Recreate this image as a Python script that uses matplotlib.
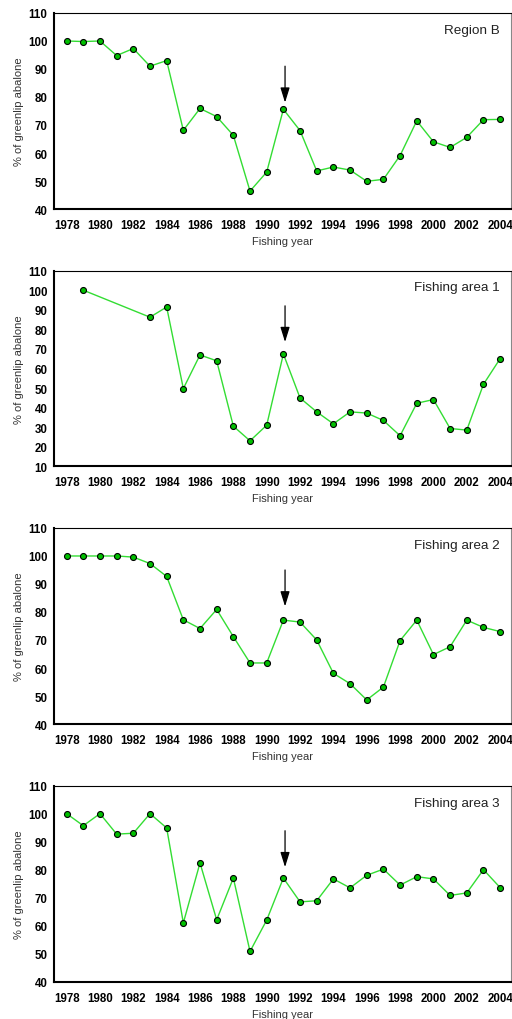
import matplotlib
matplotlib.use("Agg")
import matplotlib.pyplot as plt

plt.rcParams['font.family'] = ['Liberation Sans', 'DejaVu Sans']

years_b = list(range(1978, 2005))
region_b = [100, 99.8, 100, 94.8, 97.3, 91, 93, 68.1, 75.9, 73, 66.3, 46.4, 53.2,
            75.6, 68, 53.6, 55, 53.9, 49.9, 50.6, 59.1, 71.5, 64, 62, 65.6, 71.9, 72]

years_1 = [1979] + list(range(1983, 2005))
area_1 = [100, 86.2, 91.4, 49.7, 66.9, 63.9, 30.5, 23, 31, 67.4, 44.9, 37.8, 31.7,
          37.8, 37.2, 33.4, 25.6, 42.2, 44.1, 29.3, 28.5, 51.9, 65]

years_2 = list(range(1978, 2005))
area_2 = [100, 100, 100, 100, 99.6, 97.3, 92.7, 77.2, 74.1, 80.9, 71.2, 61.8, 61.8,
          77.1, 76.4, 70, 58.1, 54.4, 48.6, 53.2, 69.8, 77.1, 64.8, 67.6, 77.1, 74.5, 73]

years_3 = list(range(1978, 2005))
area_3 = [100.1, 95.8, 100.1, 92.8, 93.1, 100.1, 95, 61.1, 82.5, 62.2, 77.1, 50.9, 62.1,
          77.1, 68.6, 69, 76.8, 73.6, 78.1, 80.3, 74.6, 77.6, 76.8, 70.9, 71.8, 80.1, 73.7]

titles = ["Region B", "Fishing area 1", "Fishing area 2", "Fishing area 3"]
ylims = [(40, 110), (10, 110), (40, 110), (40, 110)]
arrow_from = [91, 92, 95, 94]
arrow_to = [78, 73.5, 82, 81]
xticks = list(range(1978, 2005, 2))

series = [(years_b, region_b), (years_1, area_1), (years_2, area_2), (years_3, area_3)]

fig = plt.figure(figsize=(5.12, 10.2), dpi=100)
bottoms = [0.7941, 0.5419, 0.2892, 0.0363]
heights = [0.1922, 0.1918, 0.1922, 0.1922]

for i, (xs, ys) in enumerate(series):
    ax = fig.add_axes([0.106, bottoms[i], 0.892, heights[i]])
    ax.plot(xs, ys, color='#33dd33', lw=1.0, marker='o', markersize=4.3,
            markerfacecolor='#00c000', markeredgecolor='black', markeredgewidth=0.8,
            zorder=3)
    lo, hi = ylims[i]
    ax.set_ylim(lo, hi)
    ax.set_yticks(list(range(lo, hi + 1, 10)))
    ax.set_xlim(1977.26, 2004.65)
    ax.set_xticks(xticks)
    ax.tick_params(length=0, labelsize=8.3)
    ax.tick_params(axis='y', pad=5)
    ax.tick_params(axis='x', pad=7)
    for lab in ax.get_xticklabels() + ax.get_yticklabels():
        lab.set_fontweight('bold')
    for side in ['left', 'bottom']:
        ax.spines[side].set_linewidth(1.5)
    ax.spines['top'].set_linewidth(0.8)
    ax.spines['right'].set_linewidth(0.8)
    ax.spines['right'].set_color('#888888')
    ax.set_xlabel("Fishing year", fontsize=8, color='#333333', labelpad=3.5)
    ax.set_ylabel("% of greenlip abalone", fontsize=8, color='#333333', labelpad=3)
    ax.text(0.976, 0.915, titles[i], transform=ax.transAxes, ha='right', va='center',
            fontsize=9.7, color='#222222')
    ax.annotate("", xy=(1991.1, arrow_to[i]), xytext=(1991.1, arrow_from[i]),
                arrowprops=dict(arrowstyle='-|>,head_length=0.9,head_width=0.28',
                                color='black', lw=0.9, shrinkA=0, shrinkB=0))

fig.savefig("out.png", dpi=100)
